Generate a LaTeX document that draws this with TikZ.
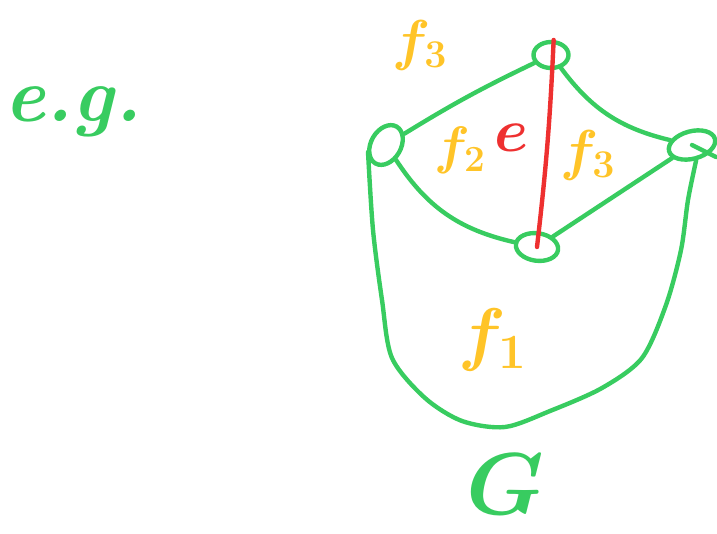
\documentclass[tikz,border=0pt]{standalone}
\usepackage{fix-cm}
\usepackage{tikz}
\usetikzlibrary{shapes.geometric}
\definecolor{pengreen}{RGB}{56,204,96}
\definecolor{penyellow}{RGB}{255,196,40}
\definecolor{penred}{RGB}{238,48,48}
\tikzset{
	vert/.style = {ellipse, draw = pengreen, line width = 2.5pt, minimum width = 0.7cm, minimum height = 0.52cm, inner sep = 0pt},
	gedge/.style = {draw = pengreen, line width = 2.5pt, line cap = round},
	face/.style = {text = penyellow}
}

\begin{document}
\begin{tikzpicture} [x = {(0.02cm,0)}, y = {(0,-0.02cm)}]
	\useasboundingbox (0,0) rectangle (717,534);
	\node [vert] (A) at (551,55) {};
	\node [vert, rotate = 60, minimum width = 0.85cm, minimum height = 0.6cm] (B) at (386,145) {};
	\node [vert, rotate = 15, minimum width = 0.95cm, minimum height = 0.55cm] (C) at (692,145) {};
	\node [vert, rotate = -8, minimum width = 0.85cm, minimum height = 0.55cm] (D) at (537,247) {};
	\coordinate (Ctail) at (716,157);
	\coordinate (Bfoot) at (368,152);
	\draw [gedge] (B) to [bend left = 3] (A);
	\draw [gedge] (A) to [bend right = 20] (C);
	\draw [gedge] (B) to [bend right = 22] (D);
	\draw [gedge] (D) -- (C);
	\draw [gedge] (C.center) -- (Ctail);
	% outer boundary of f_1
	\draw [gedge] plot [smooth] coordinates {(Bfoot) (373,230) (382,300) (392,358) (425,398) (462,421) (505,427) (550,411) (602,388) (642,358) (666,305) (681,250) (688,200) (C.south)};
	\draw [line width = 2.5pt, penred, line cap = round] (A.80) to [bend left = 2] (D.center);
	\node [text = pengreen, font = \fontsize{44}{48}\selectfont\itshape\bfseries] (eg) at (73,112) {e.g.};
	\node [face, font = \fontsize{32}{36}\selectfont\boldmath] (f3) at (420,45) {$f_3$};
	\node [face, font = \fontsize{30}{34}\selectfont\boldmath] (f2) at (460,150) {$f_2$};
	\node [text = penred, font = \fontsize{35}{38}\selectfont\boldmath] (e) at (512,138) {$e$};
	\node [face, font = \fontsize{32}{36}\selectfont\boldmath] (f4) at (588,155) {$f_3$};
	\node [face, font = \fontsize{40}{44}\selectfont\boldmath] (f1) at (493,340) {$f_1$};
	\node [text = pengreen, font = \fontsize{50}{54}\selectfont\boldmath] (G) at (505,484) {$G$};
\end{tikzpicture}
\end{document}
